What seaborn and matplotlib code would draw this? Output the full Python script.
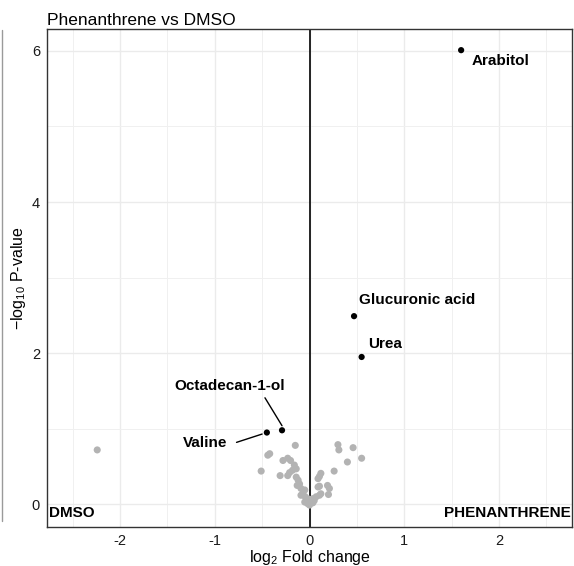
import matplotlib
matplotlib.use("Agg")
import matplotlib.pyplot as plt
import seaborn as sns
import pandas as pd
from matplotlib.lines import Line2D
from matplotlib.ticker import MultipleLocator, FuncFormatter

# ---- data ----
sig_names = ["Arabitol", "Glucuronic acid", "Urea", "Octadecan-1-ol", "Valine"]
sig_x = [1.60, 0.47, 0.55, -0.29, -0.45]
sig_y = [6.01, 2.49, 1.95, 0.98, 0.95]

ns_x = [-2.24, -0.15, -0.42, -0.44, -0.51, -0.28, -0.23, -0.20, -0.31, -0.23,
        -0.21, -0.16, -0.14, -0.18, -0.14, -0.12, -0.105, -0.13, -0.09, -0.05,
        -0.07, -0.045, -0.09, -0.02, -0.05, -0.02, 0.0, 0.30, 0.31, 0.46,
        0.55, 0.40, 0.26, 0.12, 0.105, 0.09, 0.19, 0.21, 0.20, 0.105,
        0.09, 0.12, 0.105, 0.07, 0.035, 0.018, 0.05, 0.0, 0.035, 0.01, -0.01]
ns_y = [0.72, 0.78, 0.67, 0.65, 0.44, 0.58, 0.61, 0.58, 0.38, 0.38,
        0.42, 0.52, 0.47, 0.45, 0.36, 0.32, 0.27, 0.25, 0.21, 0.19,
        0.14, 0.10, 0.12, 0.05, 0.03, 0.01, -0.01, 0.79, 0.72, 0.75,
        0.61, 0.56, 0.44, 0.41, 0.37, 0.34, 0.25, 0.21, 0.13, 0.24,
        0.23, 0.14, 0.12, 0.10, 0.075, 0.06, 0.05, 0.03, 0.02, 0.04, 0.07]

title = "Phenanthrene vs DMSO"
x_ticks = [-2, -1, 0, 1, 2]
y_ticks = [0, 2, 4, 6]

sig = pd.DataFrame({"name": sig_names, "x": sig_x, "y": sig_y})
ns = pd.DataFrame({"x": ns_x, "y": ns_y})

sns.set_style("white")
plt.rcParams["font.family"] = ["Liberation Sans", "DejaVu Sans"]
plt.rcParams["mathtext.default"] = "regular"

fig = plt.figure(figsize=(5.74, 5.66), dpi=100)
ax = fig.add_axes([47/574, 39/566, 525/574, 498/566])

ax.set_xlim(-2.77, 2.77)
ax.set_ylim(-0.30, 6.29)
ax.set_xticks(x_ticks)
ax.set_yticks(y_ticks)
ax.xaxis.set_major_formatter(FuncFormatter(lambda v, p: f"{v:g}"))
ax.yaxis.set_major_formatter(FuncFormatter(lambda v, p: f"{v:g}"))
ax.xaxis.set_minor_locator(MultipleLocator(0.5))
ax.yaxis.set_minor_locator(MultipleLocator(1))
ax.grid(which="major", color="#EBEBEB", linewidth=1.0)
ax.grid(which="minor", color="#F0F0F0", linewidth=0.7)
ax.set_axisbelow(True)
for s in ax.spines.values():
    s.set_color("#333333")
    s.set_linewidth(1.0)
ax.tick_params(axis="both", which="major", length=3, width=0.8, color="#333333",
               labelsize=10.5, labelcolor="#1A1A1A", direction="out", pad=2)
ax.tick_params(which="minor", length=0)

ax.axvline(0, color="black", linewidth=1.2, zorder=1.5)

sns.scatterplot(data=ns, x="x", y="y", ax=ax, color="#B3B3B3", s=26,
                edgecolor="none", zorder=2, legend=False)
sns.scatterplot(data=sig, x="x", y="y", ax=ax, color="black", s=20,
                edgecolor="none", zorder=3, legend=False)

lab_kw = dict(fontsize=11, fontweight="bold", color="black")
ax.text(1.71, 5.87, "Arabitol", ha="left", va="center", **lab_kw)
ax.text(0.52, 2.71, "Glucuronic acid", ha="left", va="center", **lab_kw)
ax.text(0.62, 2.12, "Urea", ha="left", va="center", **lab_kw)
ax.text(-0.84, 1.56, "Octadecan-1-ol", ha="center", va="center", **lab_kw)
ax.text(-1.10, 0.81, "Valine", ha="center", va="center", **lab_kw)
ax.plot([-0.47, -0.29], [1.41, 1.04], color="black", linewidth=1.0)
ax.plot([-0.77, -0.50], [0.82, 0.93], color="black", linewidth=1.0)

ax.text(-2.75, -0.12, "DMSO", ha="left", va="center", **lab_kw)
ax.text(2.76, -0.12, "PHENANTHRENE", ha="right", va="center", **lab_kw)

ax.set_xlabel("log$_{2}$ Fold change", fontsize=11.5, color="black")
ax.xaxis.set_label_coords(0.5, -0.061)
ax.xaxis.label.set_va("center")
ax.set_ylabel("$-$log$_{10}$ P-value", fontsize=11.5, color="black")
ax.yaxis.set_label_coords(-0.055, 0.5)
ax.yaxis.label.set_va("center")
ax.set_title(title, fontsize=12.5, loc="left", x=0.0, pad=3, color="black")

fig.add_artist(Line2D([1.5/574, 1.5/574], [1 - 30/566, 1 - 521/566],
                      transform=fig.transFigure, color="#9A9A9A", linewidth=1.0))

fig.savefig("out.png", dpi=100)
